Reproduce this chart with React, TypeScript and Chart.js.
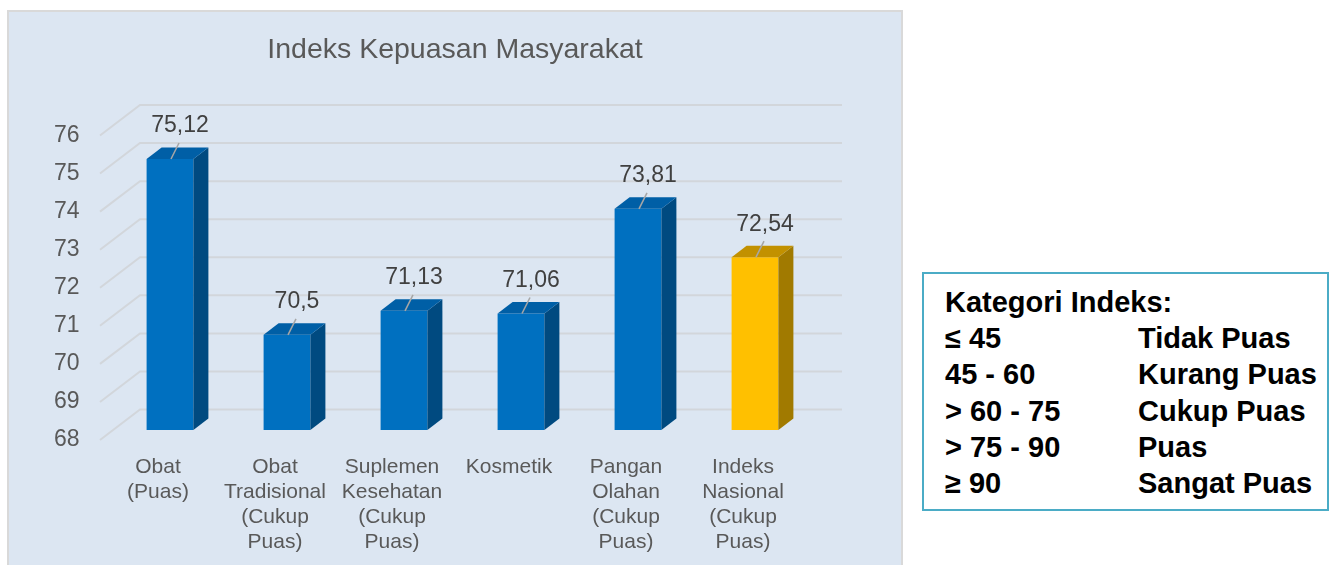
import React, { useEffect, useRef } from "react";
import { Chart, registerables } from "chart.js";

Chart.register(...registerables);

const chartTitle = "Indeks Kepuasan Masyarakat";
const categories: string[][] = [
  ["Obat", "(Puas)"],
  ["Obat", "Tradisional", "(Cukup", "Puas)"],
  ["Suplemen", "Kesehatan", "(Cukup", "Puas)"],
  ["Kosmetik"],
  ["Pangan", "Olahan", "(Cukup", "Puas)"],
  ["Indeks", "Nasional", "(Cukup", "Puas)"],
];
const values: number[] = [75.12, 70.5, 71.13, 71.06, 73.81, 72.54];
const highlighted: boolean[] = [false, false, false, false, false, true];
const yMin = 68;
const yMax = 76;

const legendTitle = "Kategori Indeks:";
const legendRanges: string[] = ["≤ 45", "45 - 60", "> 60 - 75", "> 75 - 90", "≥ 90"];
const legendNames: string[] = ["Tidak Puas", "Kurang Puas", "Cukup Puas", "Puas", "Sangat Puas"];

const FONT = '"Liberation Sans", Arial, sans-serif';

const blue = { front: "#0070c0", top: "#005fa6", side: "#004a80" };
const gold = { front: "#ffc000", top: "#c29100", side: "#a17a00" };

const DX = 15;
const DY = -11.5;

const threeDPlugin = {
  id: "threeD",
  beforeDatasetsDraw(chart: any) {
    const { ctx, chartArea, scales } = chart;
    const y = scales.y;
    ctx.save();
    ctx.strokeStyle = "#d2d6db";
    ctx.lineWidth = 2;
    for (let v = yMin; v <= yMax; v++) {
      const p = y.getPixelForValue(v);
      ctx.beginPath();
      ctx.moveTo(chartArea.left - 11.5, p + 10);
      ctx.lineTo(chartArea.left + 28.5, p - 20.5);
      ctx.lineTo(chartArea.right + 28.5, p - 20.5);
      ctx.stroke();
    }
    ctx.restore();
  },
  afterDatasetsDraw(chart: any) {
    const { ctx, chartArea } = chart;
    const meta = chart.getDatasetMeta(0);
    ctx.save();
    meta.data.forEach((bar: any, i: number) => {
      const c = highlighted[i] ? gold : blue;
      const w = bar.width;
      const l = bar.x - w / 2;
      const r = bar.x + w / 2;
      const t = bar.y;
      const b = Math.min(bar.base, chartArea.bottom);
      // side
      ctx.fillStyle = c.side;
      ctx.beginPath();
      ctx.moveTo(r, t);
      ctx.lineTo(r + DX, t + DY);
      ctx.lineTo(r + DX, b + DY);
      ctx.lineTo(r, b);
      ctx.closePath();
      ctx.fill();
      // top
      ctx.fillStyle = c.top;
      ctx.beginPath();
      ctx.moveTo(l, t);
      ctx.lineTo(l + DX, t + DY);
      ctx.lineTo(r + DX, t + DY);
      ctx.lineTo(r, t);
      ctx.closePath();
      ctx.fill();
      // leader line
      ctx.strokeStyle = "#a6a6a6";
      ctx.lineWidth = 1.5;
      ctx.beginPath();
      ctx.moveTo(bar.x + 1, t);
      ctx.lineTo(bar.x + 9, t - 16);
      ctx.stroke();
      // value label
      ctx.fillStyle = "#404040";
      ctx.font = `23px ${FONT}`;
      ctx.textAlign = "center";
      ctx.textBaseline = "middle";
      ctx.fillText(String(values[i]).replace(".", ","), bar.x + 10, t - 33);
    });
    // title
    ctx.fillStyle = "#595959";
    ctx.font = `28.5px ${FONT}`;
    ctx.textAlign = "center";
    ctx.textBaseline = "alphabetic";
    ctx.fillText(chartTitle, 455, 58);
    ctx.restore();
  },
};

export default function App() {
  const ref = useRef<HTMLCanvasElement | null>(null);

  useEffect(() => {
    if (!ref.current) return;
    const chart = new Chart(ref.current, {
      type: "bar",
      data: {
        labels: categories,
        datasets: [
          {
            data: values,
            backgroundColor: highlighted.map((h) => (h ? gold.front : blue.front)),
            barPercentage: 0.4,
            categoryPercentage: 1,
          },
        ],
      },
      options: {
        responsive: false,
        animation: false,
        layout: { padding: { left: 53.5, top: 125.5, right: 515.5, bottom: 0 } },
        plugins: {
          legend: { display: false },
          title: { display: false },
          tooltip: { enabled: false },
        },
        scales: {
          x: {
            grid: { display: false, drawTicks: false },
            border: { display: false },
            ticks: {
              color: "#595959",
              font: { family: FONT, size: 21, lineHeight: 1.19 },
              padding: 25,
              labelOffset: -12,
              maxRotation: 0,
              minRotation: 0,
              autoSkip: false,
            },
            afterFit: (s: any) => {
              s.height = 135;
            },
          },
          y: {
            min: yMin,
            max: yMax,
            grid: { display: false, drawTicks: false },
            border: { display: false },
            ticks: {
              stepSize: 1,
              color: "#595959",
              font: { family: FONT, size: 23 },
              padding: 32,
              labelOffset: 10,
            },
            afterFit: (s: any) => {
              s.width = 58;
            },
          },
        },
      },
      plugins: [threeDPlugin],
    });
    return () => chart.destroy();
  }, []);

  return (
    <div
      style={{
        position: "absolute",
        left: 0,
        top: 0,
        width: 1329,
        height: 565,
        overflow: "hidden",
        background: "#ffffff",
        fontFamily: FONT,
      }}
    >
      <div
        style={{
          position: "absolute",
          left: 7,
          top: 10,
          width: 896,
          height: 570,
          boxSizing: "border-box",
          background: "#dce6f2",
          border: "2px solid #d9d9d9",
        }}
      />
      <canvas
        ref={ref}
        width={1329}
        height={565}
        style={{ position: "absolute", left: 0, top: 0, width: 1329, height: 565 }}
      />
      <div
        style={{
          position: "absolute",
          left: 922,
          top: 272,
          width: 407,
          height: 239,
          boxSizing: "border-box",
          border: "2px solid #4bacc6",
          background: "#ffffff",
          padding: "10px 0 0 21px",
          fontWeight: "bold",
          fontSize: 29,
          lineHeight: "36.2px",
          color: "#000000",
          whiteSpace: "nowrap",
        }}
      >
        <div>{legendTitle}</div>
        {legendRanges.map((r, i) => (
          <div key={i} style={{ display: "flex" }}>
            <span style={{ width: 193, display: "inline-block" }}>{r}</span>
            <span>{legendNames[i]}</span>
          </div>
        ))}
      </div>
    </div>
  );
}
